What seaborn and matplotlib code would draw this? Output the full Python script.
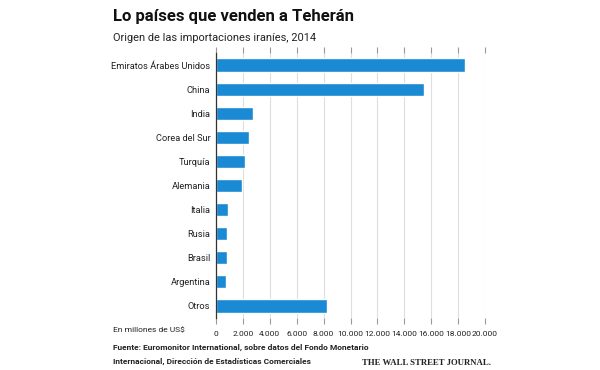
import matplotlib
matplotlib.use("Agg")
import matplotlib.pyplot as plt
import seaborn as sns
import pandas as pd

categories = ["Emiratos Árabes Unidos", "China", "India", "Corea del Sur", "Turquía",
              "Alemania", "Italia", "Rusia", "Brasil", "Argentina", "Otros"]
values = [18550, 15450, 2730, 2450, 2130, 1900, 870, 800, 790, 740, 8220]
tick_values = list(range(0, 20001, 2000))
tick_labels = ["0", "2.000", "4.000", "6.000", "8.000", "10.000", "12.000",
               "14.000", "16.000", "18.000", "20.000"]

sns.set_theme(style="white")
plt.rcParams["font.family"] = ["Roboto", "DejaVu Sans"]

df = pd.DataFrame({"pais": categories, "valor": values})

fig = plt.figure(figsize=(6, 3.7), dpi=100)
ax = fig.add_axes([216/600, 1-318/370, (485-216)/600, (318-53)/370])

sns.barplot(data=df, x="valor", y="pais", color="#1a8ad4", width=0.55,
            saturation=1, ax=ax, orient="h")

ax.set_xlim(0, 20000)
ax.set_xticks(tick_values)
ax.set_xticklabels(tick_labels, fontsize=6, color="#222222")
ax.tick_params(axis="x", which="both", top=True, bottom=True, length=4, width=0.8,
               color="#999999", pad=5, labeltop=False)
ax.tick_params(axis="y", length=0, pad=4, labelsize=6.7, labelcolor="#222222")
ax.xaxis.grid(True, color="#dedede", linewidth=0.8)
ax.set_axisbelow(True)
for s in ["top", "right", "bottom"]:
    ax.spines[s].set_visible(False)
ax.spines["left"].set_color("#333333")
ax.spines["left"].set_linewidth(0.9)
ax.set_xlabel("")
ax.set_ylabel("")

fig.text(113/600, 1-17/370, "Lo países que venden a Teherán", fontsize=12,
         fontweight="bold", color="#111111", va="center", ha="left")
fig.text(113/600, 1-38/370, "Origen de las importaciones iraníes, 2014", fontsize=7.9,
         color="#222222", va="center", ha="left")
fig.text(113/600, 1-330/370, "En millones de US$", fontsize=6, color="#222222",
         va="center", ha="left")
fig.text(113/600, 1-347/370, "Fuente: Euromonitor International, sobre datos del Fondo Monetario",
         fontsize=6, fontweight="bold", color="#222222", va="center", ha="left")
fig.text(113/600, 1-361/370, "Internacional, Dirección de Estadísticas Comerciales",
         fontsize=6, fontweight="bold", color="#222222", va="center", ha="left")
fig.text(491/600, 1-363/370, "THE WALL STREET JOURNAL.", fontsize=6.3, fontweight="bold",
         family=["Liberation Serif", "DejaVu Serif"], color="#222222", va="center", ha="right")

fig.savefig("out.png", dpi=100, facecolor="white")
